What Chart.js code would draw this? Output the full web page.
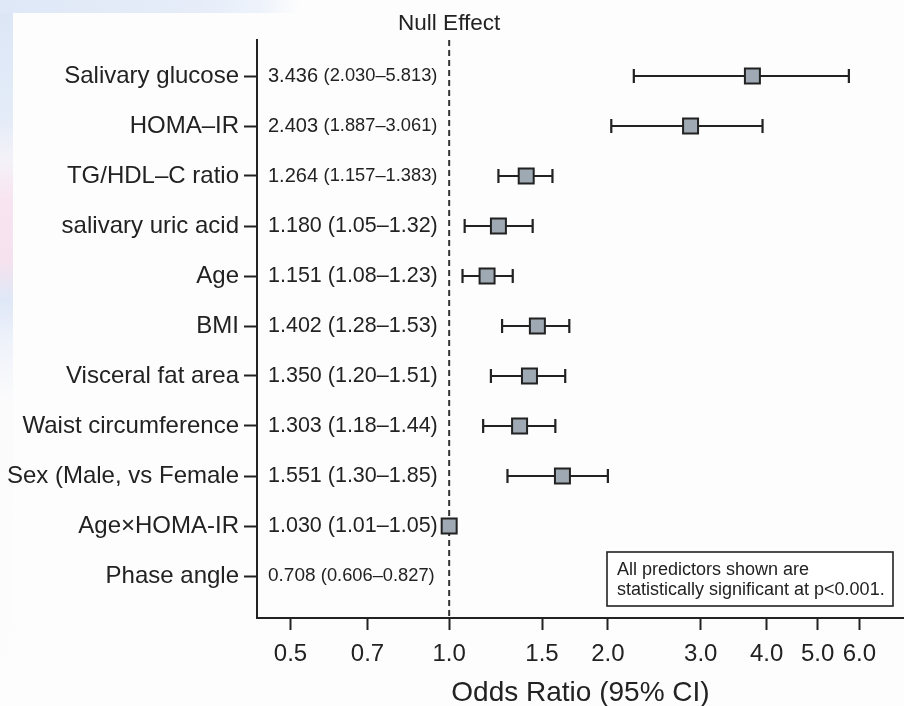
<!DOCTYPE html>
<html>
<head>
<meta charset="utf-8">
<script src="https://cdn.jsdelivr.net/npm/chart.js@4.4.1/dist/chart.umd.min.js"></script>
<style>
  html, body { margin: 0; padding: 0; background: #fdfdfd; }
  #wrap { position: relative; width: 904px; height: 706px; overflow: hidden; }
  .strip-left { position: absolute; left: 0; top: 0; width: 13px; height: 706px;
    background: linear-gradient(to bottom, #dbe6f6 0px, #e4ecf8 120px, #f4f2f8 160px, #f8e4f0 200px, #f6e2ee 260px, #dfe8f7 300px, #eef2fa 340px, #fbfbfc 400px, #fdfdfd 706px); }
  .strip-top { position: absolute; left: 0; top: 0; width: 300px; height: 13px;
    background: linear-gradient(to right, #dfe8f7 0px, #e6edf9 200px, #eef3fb 260px, #fdfdfd 300px); }
  canvas { position: absolute; left: 0; top: 0; }
</style>
</head>
<body>
<div id="wrap">
  <div class="strip-left"></div>
  <div class="strip-top"></div>
  <canvas id="forest" width="904" height="706"></canvas>
</div>
<script>
// predictors, top to bottom
const predictors = ['Salivary glucose', 'HOMA–IR', 'TG/HDL–C ratio', 'salivary uric acid', 'Age', 'BMI',
    'Visceral fat area', 'Waist circumference', 'Sex (Male, vs Female', 'Age×HOMA-IR', 'Phase angle'];

// printed estimates next to the axis
const estimateText = ['3.436', '2.403', '1.264', '1.180', '1.151', '1.402', '1.350', '1.303', '1.551', '1.030', '0.708'];
const ciText = ['2.030–5.813', '1.887–3.061', '1.157–1.383', '1.05–1.32', '1.08–1.23', '1.28–1.53',
    '1.20–1.51', '1.18–1.44', '1.30–1.85', '1.01–1.05', '0.606–0.827'];

// plotted marks (phase angle has no mark)
const orPlotted = [3.76, 2.87, 1.40, 1.24, 1.18, 1.47, 1.42, 1.36, 1.64, 1.00, null];
const ciLower  = [2.24, 2.03, 1.24, 1.07, 1.06, 1.26, 1.20, 1.16, 1.29, 0.99, null];
const ciUpper  = [5.73, 3.93, 1.57, 1.44, 1.32, 1.69, 1.66, 1.59, 2.00, 1.01, null];

const xTicks = [0.5, 0.7, 1.0, 1.5, 2.0, 3.0, 4.0, 5.0, 6.0];
const nullValue = 1.0;
const noteLines = ['All predictors shown are', 'statistically significant at p<0.001.'];

const INK = '#222222';
const FONT = "'Liberation Sans', Arial, Helvetica, sans-serif";

const points = predictors.map((p, i) => ({ x: orPlotted[i], y: i })).filter(p => p.x !== null);

// whiskers + null line + texts
const forestDecor = {
    id: 'forestDecor',
    beforeDatasetsDraw(chart) {
        const { ctx, chartArea, scales: { x, y } } = chart;
        ctx.save();
        // null effect line
        const nx = x.getPixelForValue(nullValue);
        ctx.strokeStyle = '#333';
        ctx.lineWidth = 2;
        ctx.setLineDash([6, 4]);
        ctx.beginPath();
        ctx.moveTo(nx, chartArea.top);
        ctx.lineTo(nx, chartArea.bottom);
        ctx.stroke();
        ctx.setLineDash([]);

        // confidence intervals
        ctx.strokeStyle = INK;
        ctx.lineWidth = 2.2;
        predictors.forEach((p, i) => {
            if (ciLower[i] === null) return;
            const x1 = x.getPixelForValue(ciLower[i]);
            const x2 = x.getPixelForValue(ciUpper[i]);
            const yy = y.getPixelForValue(i);
            ctx.beginPath();
            ctx.moveTo(x1, yy); ctx.lineTo(x2, yy);
            ctx.moveTo(x1, yy - 7); ctx.lineTo(x1, yy + 7);
            ctx.moveTo(x2, yy - 7); ctx.lineTo(x2, yy + 7);
            ctx.stroke();
        });
        ctx.restore();
    },
    afterDraw(chart) {
        const { ctx, chartArea, scales: { x, y } } = chart;
        ctx.save();
        ctx.fillStyle = INK;
        ctx.textBaseline = 'middle';

        // title over the null line
        ctx.textAlign = 'center';
        ctx.font = '22.5px ' + FONT;
        ctx.fillText('Null Effect', x.getPixelForValue(nullValue), 24);

        // printed OR (CI) column
        ctx.textAlign = 'left';
        predictors.forEach((p, i) => {
            const yy = y.getPixelForValue(i);
            const longCi = ciText[i].length > 9;
            let estSize = longCi ? 20 : 21.5;
            if (i === predictors.length - 1) estSize = 19;
            const ciSize = longCi ? 18.3 : 21.5;
            let xx = chartArea.left + 11;
            ctx.font = estSize + 'px ' + FONT;
            ctx.fillText(estimateText[i] + ' ', xx, yy);
            xx += ctx.measureText(estimateText[i] + ' ').width;
            ctx.font = ciSize + 'px ' + FONT;
            ctx.fillText('(' + ciText[i] + ')', xx, yy);
        });

        // note box
        const bx = 607, by = 552, bw = 286, bh = 54;
        ctx.fillStyle = '#ffffff';
        ctx.fillRect(bx, by, bw, bh);
        ctx.strokeStyle = INK;
        ctx.lineWidth = 1.6;
        ctx.strokeRect(bx, by, bw, bh);
        ctx.fillStyle = INK;
        ctx.font = '18px ' + FONT;
        ctx.fillText(noteLines[0], bx + 10, by + 18);
        ctx.fillText(noteLines[1], bx + 10, by + 38);
        ctx.restore();
    }
};

new Chart(document.getElementById('forest').getContext('2d'), {
    type: 'scatter',
    data: {
        datasets: [{
            data: points,
            pointStyle: 'rect',
            pointRadius: 10.6,
            pointHoverRadius: 10.6,
            backgroundColor: '#9ea9b3',
            borderColor: INK,
            borderWidth: 2
        }]
    },
    options: {
        responsive: false,
        animation: false,
        layout: { autoPadding: false, padding: { top: 40, right: 0, bottom: 0, left: 0 } },
        plugins: {
            legend: { display: false },
            tooltip: { enabled: false }
        },
        scales: {
            x: {
                type: 'logarithmic',
                min: 0.432,
                max: 7.29,
                afterBuildTicks: (scale) => { scale.ticks = xTicks.map(v => ({ value: v })); },
                afterFit: (scale) => { scale.height = 88; },
                ticks: {
                    color: INK,
                    font: { family: FONT, size: 24 },
                    padding: 10,
                    maxRotation: 0,
                    autoSkip: false,
                    callback: (v) => Number(v).toFixed(1)
                },
                grid: { display: true, drawOnChartArea: false, drawTicks: true, tickLength: 12, tickColor: INK, tickWidth: 2 },
                border: { display: true, color: INK, width: 2 },
                title: {
                    display: true,
                    text: 'Odds Ratio (95% CI)',
                    color: INK,
                    font: { family: FONT, size: 28, lineHeight: 0.9 },
                    padding: { top: 0, bottom: 0 }
                }
            },
            y: {
                type: 'linear',
                reverse: true,
                min: -0.72,
                max: 10.84,
                afterBuildTicks: (scale) => { scale.ticks = predictors.map((p, i) => ({ value: i })); },
                afterFit: (scale) => { scale.width = 257; },
                ticks: {
                    color: INK,
                    font: { family: FONT, size: 24 },
                    padding: 5,
                    autoSkip: false,
                    callback: (v) => predictors[v]
                },
                grid: { display: true, drawOnChartArea: false, drawTicks: true, tickLength: 13, tickColor: INK, tickWidth: 2 },
                border: { display: true, color: INK, width: 2 }
            }
        }
    },
    plugins: [forestDecor]
});
</script>
</body>
</html>
